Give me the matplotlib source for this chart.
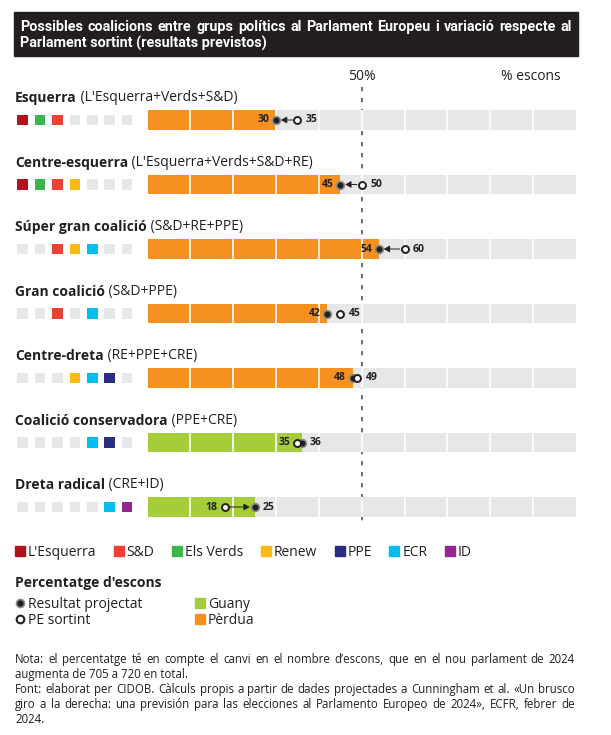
import matplotlib
matplotlib.use('Agg')
import matplotlib.pyplot as plt
import matplotlib.transforms as mtransforms
from matplotlib.patches import Patch, Rectangle
from matplotlib.lines import Line2D
import numpy as np

plt.rcParams['font.family'] = ['Open Sans', 'DejaVu Sans']

# dades
coalicions = ["Esquerra", "Centre-esquerra", "Súper gran coalició", "Gran coalició",
              "Centre-dreta", "Coalició conservadora", "Dreta radical"]
membres = ["(L'Esquerra+Verds+S&D)", "(L'Esquerra+Verds+S&D+RE)", "(S&D+RE+PPE)",
           "(S&D+PPE)", "(RE+PPE+CRE)", "(PPE+CRE)", "(CRE+ID)"]
projectat = [30, 45, 54, 42, 48, 36, 25]
sortint = [35, 50, 60, 45, 49, 35, 18]

grups = ["L'Esquerra", "S&D", "Els Verds", "Renew", "PPE", "ECR", "ID"]
colors_grups = ['#b3121c', '#ee4035', '#3ab54a', '#fdb813', '#2b2d84', '#00bdf2', '#92278f']

# quadrets de colors de cada fila (tal com surten al gràfic)
quadres = [
    ["L'Esquerra", "Els Verds", "S&D", None, None, None, None],
    ["L'Esquerra", "Els Verds", "S&D", "Renew", None, None, None],
    [None, None, "S&D", "Renew", "ECR", None, None],
    [None, None, "S&D", None, "ECR", None, None],
    [None, None, None, "Renew", "ECR", "PPE", None],
    [None, None, None, None, "ECR", "PPE", None],
    [None, None, None, None, None, "ECR", "ID"],
]

titol = ["Possibles coalicions entre grups polítics al Parlament Europeu i variació respecte al",
         "Parlament sortint (resultats previstos)"]
nota = ["Nota: el percentatge té en compte el canvi en el nombre d’escons, que en el nou parlament de 2024",
        "augmenta de 705 a 720 en total.",
        "Font: elaborat per CIDOB. Càlculs propis a partir de dades projectades a Cunningham et al. «Un brusco",
        "giro a la derecha: una previsión para las elecciones al Parlamento Europeo de 2024», ECFR, febrer de",
        "2024."]
nota_just = [True, False, True, True, False]

TXT = '#231f20'
GRIS = '#e6e7e8'
TARONJA = '#f6901e'
VERD = '#a5cd39'

W, H = 611, 735
fig = plt.figure(figsize=(W / 100, H / 100), dpi=100)
fig.patch.set_facecolor('white')


def fx(px):
    return px / W


def fy(py):
    return 1 - py / H


rend = fig.canvas.get_renderer()


def mida_ajustada(textos, ample, mida, maxim, **kw):
    # mida de lletra perquè la línia més llarga hi càpiga
    amples = []
    for t in textos:
        a = fig.text(0, 0, t, fontsize=mida, **kw)
        amples.append(a.get_window_extent(rend).width)
        a.remove()
    return min(maxim, mida * ample / max(amples))


def linia(text, x0, x1, ybase, justificar, **kw):
    # ybase: línia de base en píxels des de dalt
    if not justificar:
        fig.text(fx(x0), fy(ybase), text, ha='left', va='baseline', **kw)
        return
    paraules = text.split(' ')
    arts = [fig.text(0, fy(ybase), p, ha='left', va='baseline', **kw) for p in paraules]
    amples = [a.get_window_extent(rend).width for a in arts]
    espai = ((x1 - x0) - sum(amples)) / (len(paraules) - 1)
    x = x0
    for a, w in zip(arts, amples):
        a.set_x(fx(x))
        x += w + espai


# títol amb fons negre
fig.patches.append(Rectangle((fx(14), fy(56)), fx(578) - fx(14), 44 / H,
                             transform=fig.transFigure, color=TXT, zorder=0))
titol_font = dict(color='white', weight='bold', family=['Roboto', 'DejaVu Sans'])
mt = mida_ajustada(titol[:1], 552 * 0.985, 10, 10.5, **titol_font)
linia(titol[0], 20, 572, 31, True, fontsize=mt, **titol_font)
linia(titol[1], 20, 572, 48, False, fontsize=mt, **titol_font)

# eix principal
y = np.arange(len(coalicions))
h = 0.31
ax = fig.add_axes([fx(147.5), fy(571.5), fx(576) - fx(147.5), 516 / H])
ax.set_xlim(0, 100)
ax.set_ylim(7, -1)
ax.axis('off')

colors_barra = [VERD if p > s else TARONJA for p, s in zip(projectat, sortint)]
ax.barh(y, 100, height=h, color=GRIS, zorder=1)
ax.barh(y, projectat, height=h, color=colors_barra, zorder=2)
for yi in y:
    ax.vlines(np.arange(10, 100, 10), yi - h / 2, yi + h / 2, colors='white', lw=1.2, zorder=3)
ax.vlines(50, -0.51, 6.23, colors='#555555', lw=1.2, linestyles=(0, (2.6, 4.0)), zorder=0.5)

ax.text(50, -0.68, '50%', ha='center', va='center', fontsize=10, color=TXT)
ax.text(89.5, -0.68, '% escons', ha='center', va='center', fontsize=10, color=TXT)

# punts i fletxes
ax.scatter(projectat, y, s=46, color='#8a8a8a', linewidths=0, zorder=4)
ax.scatter(projectat, y, s=19, color=TXT, linewidths=0, zorder=5)
ax.scatter(sortint, y, s=25, facecolor='white', edgecolor=TXT, linewidths=1.4, zorder=6)

for i in y:
    p, s = projectat[i], sortint[i]
    if abs(p - s) >= 4:
        ax.annotate('', xy=(p, i), xytext=(s, i),
                    arrowprops=dict(arrowstyle='-|>,head_length=0.35,head_width=0.2',
                                    color=TXT, lw=0.7, shrinkA=3.5, shrinkB=3.5),
                    zorder=5.5)
    esq, dre = min(p, s), max(p, s)
    ax.annotate(str(esq), xy=(esq, i), xytext=(-5, 0), textcoords='offset points',
                ha='right', va='center', fontsize=7.5, weight='bold', color=TXT, zorder=7)
    ax.annotate(str(dre), xy=(dre, i), xytext=(6, 0), textcoords='offset points',
                ha='left', va='center', fontsize=7.5, weight='bold', color=TXT, zorder=7)

# noms de les coalicions
trans = mtransforms.blended_transform_factory(fig.transFigure, ax.transData)
for i in y:
    t = ax.text(fx(15), i - 0.335, coalicions[i], transform=trans, ha='left', va='center',
                fontsize=10, weight='bold', color=TXT)
    ax.annotate(' ' + membres[i], xy=(1, 0), xycoords=t, ha='left', va='bottom',
                fontsize=10, color=TXT)

# quadrets
color_de = dict(zip(grups, colors_grups))
axq = fig.add_axes([fx(14), fy(571.5), fx(135.8) - fx(14), 516 / H])
axq.set_xlim(-0.5, 6.5)
axq.set_ylim(7, -1)
axq.axis('off')
for i, fila in enumerate(quadres):
    cols = [color_de[g] if g else GRIS for g in fila]
    axq.scatter(np.arange(len(fila)), np.full(len(fila), i), marker='s', s=58,
                color=cols, linewidths=0)

# llegenda de grups
fig.legend([Patch(color=c) for c in colors_grups], grups, ncol=7, loc='center left',
           bbox_to_anchor=(fx(15), fy(552)), frameon=False, borderpad=0, borderaxespad=0,
           handlelength=0.72, handleheight=0.72, handletextpad=0.2, columnspacing=1.27,
           fontsize=10, labelcolor=TXT)

# llegenda de punts
fig.text(fx(15), fy(583), "Percentatge d'escons", ha='left', va='center',
         fontsize=10, weight='bold', color=TXT)
halo = Line2D([], [], ls='none', marker='o', ms=7, color='#8a8a8a', mew=0)
nucli = Line2D([], [], ls='none', marker='o', ms=4.5, color=TXT, mew=0)
obert = Line2D([], [], ls='none', marker='o', ms=5.5, mfc='white', mec=TXT, mew=1.5)
fig.legend([(halo, nucli), obert], ['Resultat projectat', 'PE sortint'], loc='center left',
           bbox_to_anchor=(fx(15), fy(612.5)), frameon=False, borderpad=0, borderaxespad=0,
           handlelength=0.72, handleheight=0.72, handletextpad=0.2, labelspacing=0.08,
           fontsize=10, labelcolor=TXT)
fig.legend([Patch(color=VERD), Patch(color=TARONJA)], ['Guany', 'Pèrdua'], loc='center left',
           bbox_to_anchor=(fx(195), fy(612.5)), frameon=False, borderpad=0, borderaxespad=0,
           handlelength=0.72, handleheight=0.72, handletextpad=0.2, labelspacing=0.08,
           fontsize=10, labelcolor=TXT)

# nota i font
just = [t for t, j in zip(nota, nota_just) if j]
mn = mida_ajustada(just, 560 * 0.99, 8, 9.2, color=TXT)
for k, (txt, j) in enumerate(zip(nota, nota_just)):
    linia(txt, 15, 575, 663 + 15 * k, j, fontsize=mn, color=TXT)

fig.savefig('out.png', dpi=100, facecolor='white')
